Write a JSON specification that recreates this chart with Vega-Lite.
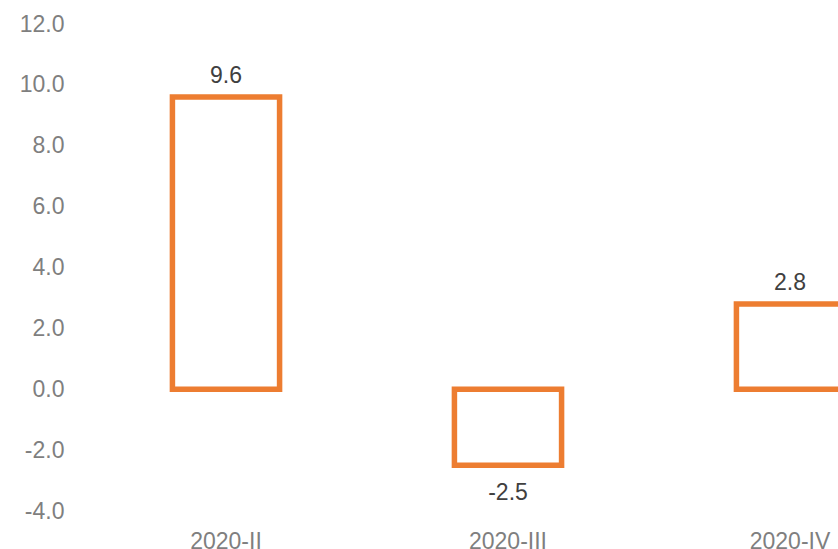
{
  "$schema": "https://vega.github.io/schema/vega-lite/v6.json",
  "width": 846,
  "height": 487,
  "autosize": {"type": "none"},
  "padding": {"left": 85, "top": 24, "right": 0, "bottom": 38},
  "background": "white",
  "config": {"view": {"stroke": null}, "font": "Liberation Sans"},
  "data": {"values": [
    {"quarter": "2020-II", "value": 9.6},
    {"quarter": "2020-III", "value": -2.5},
    {"quarter": "2020-IV", "value": 2.8}
  ]},
  "encoding": {
    "x": {"field": "quarter", "type": "nominal", "sort": null,
      "scale": {"paddingInner": 0.62, "paddingOuter": 0.31},
      "axis": {"title": null, "labelAngle": 0, "domain": false, "ticks": false, "grid": false,
        "labelFont": "Liberation Sans", "labelFontSize": 23, "labelColor": "#7f7f7f", "labelPadding": 19}}
  },
  "layer": [
    {
      "mark": {"type": "bar", "fill": "white", "stroke": "#ED7D31", "strokeWidth": 5.5},
      "encoding": {
        "y": {"field": "value", "type": "quantitative",
          "scale": {"domain": [-4, 12], "nice": false},
          "axis": {"title": null, "values": [-4, -2, 0, 2, 4, 6, 8, 10, 12], "format": ".1f",
            "labelExpr": "replace(datum.label, '\u2212', '-')",
            "domain": false, "ticks": false, "grid": false,
            "labelFont": "Liberation Sans", "labelFontSize": 23, "labelColor": "#7f7f7f", "labelPadding": 21}}
      }
    },
    {
      "transform": [{"filter": "datum.value >= 0"}],
      "mark": {"type": "text", "baseline": "bottom", "dy": -9, "fontSize": 23, "color": "#404040", "font": "Liberation Sans"},
      "encoding": {
        "y": {"field": "value", "type": "quantitative"},
        "text": {"field": "value", "type": "quantitative", "format": ".1f"}
      }
    },
    {
      "transform": [{"filter": "datum.value < 0"}, {"calculate": "replace(format(datum.value, '.1f'), '\u2212', '-')", "as": "lbl"}],
      "mark": {"type": "text", "baseline": "top", "dy": 17, "fontSize": 23, "color": "#404040", "font": "Liberation Sans"},
      "encoding": {
        "y": {"field": "value", "type": "quantitative"},
        "text": {"field": "lbl", "type": "nominal"}
      }
    }
  ]
}
